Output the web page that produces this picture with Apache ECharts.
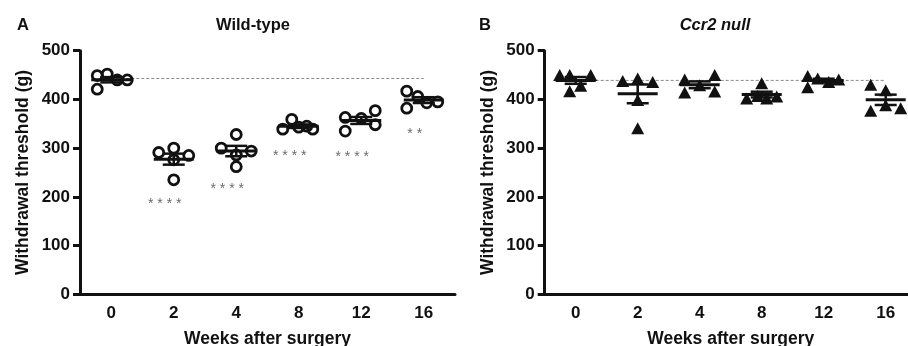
<!DOCTYPE html>
<html><head><meta charset="utf-8">
<script src="https://cdn.jsdelivr.net/npm/echarts@6/dist/echarts.min.js"></script>
<style>html,body{margin:0;padding:0;background:#fff}#c{width:908px;height:346px}</style>
</head><body><div id="c"></div>
<script>
const categories = ['0', '2', '4', '8', '12', '16'];
const wtValues = [
  [449, 452, 440, 440, 421],
  [291, 300, 285, 276, 235],
  [300, 328, 294, 286, 262],
  [339, 359, 343, 345, 339],
  [363, 335, 361, 377, 348],
  [417, 382, 406, 393, 395]
];
const koValues = [
  [450, 450, 417, 428, 450],
  [438, 443, 436, 399, 341],
  [441, 414, 429, 450, 416],
  [402, 433, 407, 402, 406],
  [448, 425, 443, 436, 441],
  [430, 377, 419, 388, 382]
];
const wtSigText = ['', '****', '****', '****', '****', '**'];
const wtSigY = [null, 193, 225, 291, 290, 336];
const wtRef = 443;
const koRef = 439;

// horizontal scatter offsets (px) – style only
const wtJit = [[-14,-4,6,16,-14],[-15,0,15,0,0],[-15,0,15,0,0],[-16,-7,0,8,14],[-16,-16,0,14,14],[-17,-17,-6,3,14]];
const koJit = [[-16,-6,-6,5,15],[-15,0,15,0,0],[-15,-15,0,15,15],[-15,0,-4,5,15],[-16,-16,-6,5,15],[-15,-15,0,0,15]];

const FONT = '"Liberation Sans", Arial, Helvetica, sans-serif';
const INK = '#111';

function stats(arr){
  const n = arr.length, m = arr.reduce((a,b)=>a+b,0)/n;
  const sd = Math.sqrt(arr.reduce((a,b)=>a+(b-m)*(b-m),0)/(n-1));
  return [m, sd/Math.sqrt(n)];
}
function scatterData(vals, jit){
  const out = [];
  vals.forEach((g,i)=>g.forEach((v,j)=>out.push({value:[categories[i], v], symbolOffset:[jit[i][j],0]})));
  return out;
}
function errData(vals){ return vals.map((g,i)=>{const s=stats(g); return [i, s[0], s[1]];}); }
function renderErr(params, api){
  const x = api.value(0), m = api.value(1), s = api.value(2);
  const c = api.coord([x, m]), hi = api.coord([x, m+s]), lo = api.coord([x, m-s]);
  const st = {stroke: INK, lineWidth: 2.5};
  return {type:'group', children:[
    {type:'line', shape:{x1:c[0]-20,y1:c[1],x2:c[0]+20,y2:c[1]}, style:{stroke:INK,lineWidth:3}},
    {type:'line', shape:{x1:c[0],y1:hi[1],x2:c[0],y2:lo[1]}, style:st},
    {type:'line', shape:{x1:c[0]-11,y1:hi[1],x2:c[0]+11,y2:hi[1]}, style:st},
    {type:'line', shape:{x1:c[0]-11,y1:lo[1],x2:c[0]+11,y2:lo[1]}, style:st}
  ]};
}
function xAx(gi){
  return {gridIndex:gi, type:'category', data:categories, boundaryGap:true,
    name:'Weeks after surgery', nameLocation:'middle', nameGap:36,
    nameTextStyle:{fontFamily:FONT, fontWeight:'bold', fontSize:17.5, color:INK},
    axisLine:{lineStyle:{color:INK, width:3}},
    axisTick:{alignWithLabel:true, length:7, lineStyle:{width:3, color:INK}},
    axisLabel:{fontFamily:FONT, fontWeight:'bold', fontSize:17, color:INK, margin:11},
    splitLine:{show:false}};
}
function yAx(gi){
  return {gridIndex:gi, type:'value', min:0, max:500, interval:100,
    name:'Withdrawal threshold (g)', nameLocation:'middle', nameGap:48,
    nameTextStyle:{fontFamily:FONT, fontWeight:'bold', fontSize:17.5, color:INK},
    axisLine:{show:true, lineStyle:{color:INK, width:3}},
    axisTick:{show:true, length:7, lineStyle:{width:3, color:INK}},
    axisLabel:{fontFamily:FONT, fontWeight:'bold', fontSize:17, color:INK, margin:10},
    splitLine:{show:false}};
}
function refLine(gi, v){
  return {type:'line', xAxisIndex:gi, yAxisIndex:gi, data:[[categories[0], v],[categories[5], v]],
    symbol:'none', silent:true, z:1, lineStyle:{color:'#8a8a8a', width:1, type:[3,2]}};
}

const chart = echarts.init(document.getElementById('c'), null, {renderer:'canvas'});
chart.setOption({
  animation:false,
  backgroundColor:'#fff',
  title:[
    {text:'A', left:12, top:12, textStyle:{fontFamily:FONT, fontWeight:'bold', fontSize:16.5, color:INK}},
    {text:'Wild-type', left:248, top:12, textAlign:'center', textStyle:{fontFamily:FONT, fontWeight:'bold', fontSize:16.5, color:INK}},
    {text:'B', left:474, top:12, textStyle:{fontFamily:FONT, fontWeight:'bold', fontSize:16.5, color:INK}},
    {text:'Ccr2 null', left:710, top:12, textAlign:'center', textStyle:{fontFamily:FONT, fontWeight:'bold', fontStyle:'italic', fontSize:16.5, color:INK}}
  ],
  grid:[
    {left:80, top:50.7, width:375, height:243.6, containLabel:false, outerBoundsMode:'none'},
    {left:544.7, top:50.7, width:372, height:243.6, containLabel:false, outerBoundsMode:'none'}
  ],
  xAxis:[xAx(0), xAx(1)],
  yAxis:[yAx(0), yAx(1)],
  series:[
    refLine(0, wtRef),
    refLine(1, koRef),
    {type:'custom', xAxisIndex:0, yAxisIndex:0, renderItem:renderErr, data:errData(wtValues), z:2},
    {type:'custom', xAxisIndex:1, yAxisIndex:1, renderItem:renderErr, data:errData(koValues), z:2},
    {type:'scatter', xAxisIndex:0, yAxisIndex:0, data:scatterData(wtValues, wtJit), symbol:'circle', symbolSize:10, z:3,
      itemStyle:{color:'rgba(255,255,255,0)', borderColor:INK, borderWidth:2.8, opacity:1}},
    {type:'scatter', xAxisIndex:1, yAxisIndex:1, data:scatterData(koValues, koJit), symbol:'triangle', symbolSize:[13,12], z:3,
      itemStyle:{color:INK, opacity:1}},
    {type:'scatter', xAxisIndex:0, yAxisIndex:0, symbolSize:0, z:4, silent:true,
      data: wtSigY.map((y,i)=> y==null ? null : {value:[categories[i], y],
        label:{show:true, formatter: wtSigText[i].split('').join(' ')}}).filter(d=>d),
      label:{show:true, position:'inside', offset:[-9,4], fontFamily:FONT, fontSize:14, color:'#444'}}
  ]
});
</script></body></html>
